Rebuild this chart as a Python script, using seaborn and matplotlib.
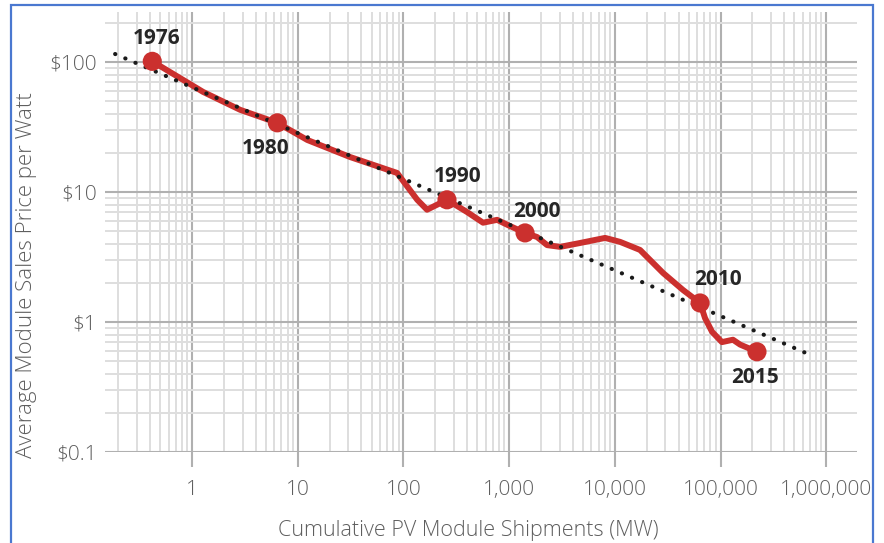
import matplotlib
matplotlib.use("Agg")
import matplotlib.pyplot as plt
import matplotlib.ticker as mticker
from matplotlib.patches import Rectangle
import seaborn as sns
import pandas as pd

# price curve (cumulative MW, $/W)
shipments = [0.42, 1.27, 2.85, 6.4, 12.3, 31, 87, 135, 167, 258, 400, 566, 769, 955,
             1413, 1836, 2284, 3032, 4690, 8080, 11200, 17300, 28600, 44200, 64000,
             71300, 83100, 103000, 131000, 153000, 221000]
price = [101, 58.8, 42.8, 34, 25.1, 18.6, 14.0, 8.7, 7.3, 8.7, 7.0, 5.8, 6.1, 5.6,
         4.84, 4.5, 3.9, 3.78, 4.05, 4.43, 4.13, 3.58, 2.38, 1.76, 1.40,
         1.07, 0.84, 0.70, 0.73, 0.67, 0.59]

years = ['1976', '1980', '1990', '2000', '2010', '2015']
year_idx = [0, 3, 9, 14, 24, 30]
label_offsets = [(4, 23), (-12, -26), (11, 23), (12, 21), (18, 23), (-2, -26)]

# learning-rate trend line end points
trend_x = [0.187, 700000]
trend_y = [115, 0.56]

x_ticks = [1, 10, 100, 1000, 10000, 100000, 1000000]
x_labels = ['1', '10', '100', '1,000', '10,000', '100,000', '1,000,000']
y_ticks = [0.1, 1, 10, 100]
y_labels = ['\\$0.1', '\\$1', '\\$10', '\\$100']

curve = pd.DataFrame({'mw': shipments, 'price': price})
marks = curve.iloc[year_idx].reset_index(drop=True)
marks['year'] = years
trend = pd.DataFrame({'mw': trend_x, 'price': trend_y})

sns.set_theme(style="white")
plt.rcParams['font.family'] = ['Open Sans', 'DejaVu Sans']

red = '#cb302e'
major_c = '#b0b0b0'
minor_c = '#dedede'
txt_c = '#5e5e5e'

fig = plt.figure(figsize=(8.84, 5.43), dpi=100)
ax = fig.add_axes([0.1188, 0.1676, 0.8507, 0.8103])
ax.set_xscale('log')
ax.set_yscale('log')
ax.set_xlim(0.150, 1.955e6)
ax.set_ylim(0.1, 242)

# grid
minor_x = [m * 10.0 ** e for e in range(-1, 6) for m in range(2, 10) if m * 10.0 ** e > 0.15]
minor_y = [m * 10.0 ** e for e in range(-1, 3) for m in range(2, 10) if m * 10.0 ** e < 242]
ax.xaxis.set_major_locator(mticker.FixedLocator(x_ticks))
ax.xaxis.set_major_formatter(mticker.FixedFormatter(x_labels))
ax.xaxis.set_minor_locator(mticker.FixedLocator(minor_x))
ax.xaxis.set_minor_formatter(mticker.NullFormatter())
ax.yaxis.set_major_locator(mticker.FixedLocator(y_ticks))
ax.yaxis.set_major_formatter(mticker.FixedFormatter(y_labels))
ax.yaxis.set_minor_locator(mticker.FixedLocator(minor_y))
ax.yaxis.set_minor_formatter(mticker.NullFormatter())
ax.grid(which='minor', color=minor_c, lw=1.4, zorder=0)
ax.grid(which='major', color=major_c, lw=1.5, zorder=0.5)
ax.set_axisbelow(True)
for s in ax.spines.values():
    s.set_visible(False)
ax.tick_params(axis='x', which='major', length=11, width=1.5, color=major_c,
               pad=9, labelsize=15, labelcolor=txt_c, bottom=True)
ax.tick_params(axis='x', which='minor', length=0)
ax.tick_params(axis='y', which='both', length=0, pad=6, labelsize=15, labelcolor=txt_c)
for lab in ax.get_xticklabels() + ax.get_yticklabels():
    lab.set_fontweight('light')

# data
sns.lineplot(data=trend, x='mw', y='price', ax=ax, color='#1a1a1a', lw=3,
             linestyle=(0, (0.05, 2.6)), dash_capstyle='round', zorder=4)
sns.lineplot(data=curve, x='mw', y='price', ax=ax, sort=False, color=red, lw=4.3,
             solid_joinstyle='round', solid_capstyle='round', zorder=3)
sns.scatterplot(data=marks, x='mw', y='price', ax=ax, color=red, s=190,
                edgecolor='none', zorder=5)

for (_, row), off in zip(marks.iterrows(), label_offsets):
    ax.annotate(row['year'], (row['mw'], row['price']), xytext=off,
                textcoords='offset pixels', ha='center', va='center',
                fontsize=15, fontweight='bold', color='#262626', zorder=6)

ax.set_xlabel('Cumulative PV Module Shipments (MW)', fontsize=15.5, color=txt_c,
              fontweight='light')
ax.set_ylabel('Average Module Sales Price per Watt', fontsize=16, color=txt_c,
              fontweight='light')
ax.xaxis.set_label_coords(0.483, -0.155)
ax.yaxis.set_label_coords(-0.09, 0.403)

# blue frame round the picture
fig.patches.append(Rectangle((11 / 884, -0.02), 862 / 884, 1 - 5 / 543 + 0.02,
                             transform=fig.transFigure, fill=False,
                             edgecolor='#4a78d0', lw=1.6, zorder=10))

fig.savefig('out.png', dpi=100, facecolor='white')
